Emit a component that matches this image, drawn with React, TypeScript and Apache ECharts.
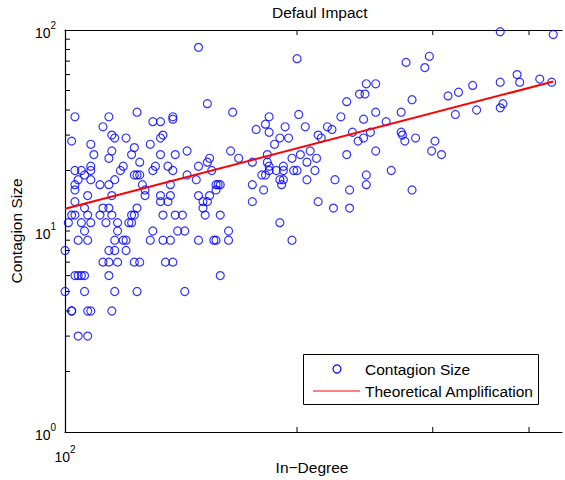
import React, { useEffect, useRef } from "react";
import * as echarts from "echarts";

// [in-degree, contagion size]
const contagionPoints: [number, number][] = [
  [103,37],[114,37],[124,39],[112,33],[115,30],[116,29],[120,29],[102,28],[108,27],[109,24],
  [115,25],[114,23],[122,24],[123,26],[125,22],[130,35],[133,35],[138,37],[138,36],[134,30],
  [133,29],[129,27],[133,24],[139,24],[144,25],
  [103,20],[105,20],[108,21],[108,20],[106,19],[104,18],[108,18],[103,17],[103,16],[107,15],
  [103,14],[116,18],[111,17],[114,17],[115,15],[118,20],[119,21],[123,19],[124,19],[125,19],
  [126,17],[127,16],[127,15],[130,20],[131,21],[136,21],[138,20],[133,15],[137,17],[137,15],
  [133,14],[136,14],[144,19],[149,21],[149,15],
  [112,13],[114,13],[106,13],[124,13],
  [102,12],[103,12],[107,12],[111,12],[115,12],[122,12],[123,12],[134,12],[139,12],[142,12],
  [101,11],[105,11],[108,11],[113,11],[117,11],[121,11],[122,11],
  [106,10],[117,10],[130,10],[140,10],[143,10],
  [104,9],[107,9],[116,9],[119,9],[120,9],[129,9],[134,9],[137,9],[149,9],
  [100,8],[114,8],[116,8],[120,8],
  [112,7],[114,7],[117,7],[123,7],[125,7],[135,7],[138,7],
  [103,6],[104,6],[105,6],[106,6],[114,6],
  [100,5],[106,5],[116,5],[124,5],[143,5],
  [102,4],[102,4],[107,4],[108,4],[115,4],
  [104,3],[107,3],
  [149,82],[200,72],[153,43],[165,39],[184,37],[182,34],[177,32],[184,31],[193,33],[201,38],
  [205,33],[190,29],[195,29],[187,27],[164,25],[168,23],[154,23],[153,22],[155,20],[148,18],
  [175,22],[183,24],[183,22],[184,21],[184,20],[180,19],[182,19],[188,20],[192,21],[192,20],
  [197,23],[198,20],[200,20],[202,24],[208,25],[206,22],[212,23],[211,20],[206,18],[190,18],
  [192,18],[191,17],[224,18],[232,24],[246,19],[246,17],[175,17],[157,17],[158,17],[159,17],
  [228,37],[232,44],[241,48],[245,48],[246,54],[253,54],[253,39],[244,36],[219,33],[222,32],
  [213,30],[215,29],[236,31],[240,28],[244,29],[249,31],[253,25],
  [277,69],[293,65],[297,74],[367,98],[430,95],[261,35],[273,39],[282,45],[314,47],[324,49],
  [338,53],[367,55],[386,60],[389,55],[413,57],[428,55],[321,38],[342,40],[367,41],[370,43],
  [273,31],[274,30],[276,28],[285,29],[302,28],[299,25],[308,24],[265,20],[282,16],
  [157,16],[154,15],[151,14],[153,14],[151,13],[152,12],[159,12],[163,10],[156,9],[157,9],
  [163,9],[159,6],[181,16],[175,14],[234,16],[213,14],[223,13],[234,13],[190,11],[197,9],
];

const fitX = [100, 430];
const fitY = [12.9, 55.4];

const yTickValues = [2, 3, 4, 5, 6, 7, 8, 9, 10, 20, 30, 40, 50, 60, 70, 80, 90];
const xTickValues = [200, 300, 400];

const X_MIN = 100;
const X_MAX = 441.4; // visible right edge of the cropped axes
const Y_MIN = 1;
const Y_MAX = 100;

const FONT = '"Liberation Sans", Arial, Helvetica, sans-serif';

export default function App() {
  const ref = useRef<HTMLDivElement>(null);

  useEffect(() => {
    if (!ref.current) return;
    const chart = echarts.init(ref.current, null, { renderer: "svg" });
    const rich = {
      b: { fontSize: 14, fontFamily: FONT, color: "#000", lineHeight: 20, verticalAlign: "bottom" },
      s: { fontSize: 10, fontFamily: FONT, color: "#000", lineHeight: 20, verticalAlign: "top" },
    };
    const txt = (text: string, x: number, y: number, align = "left") => ({
      type: "text",
      x,
      y,
      style: { text, fontSize: 15.5, fontFamily: FONT, fill: "#000", align, verticalAlign: "middle" },
    });
    const axisLine = { show: true, onZero: false, lineStyle: { color: "#000", width: 1.2 } };

    chart.setOption({
      animation: false,
      backgroundColor: "#fff",
      title: {
        text: "Defaul Impact",
        left: 272,
        top: 4,
        padding: 0,
        textStyle: { fontSize: 15.5, fontWeight: "normal", color: "#000", fontFamily: FONT },
      },
      grid: { left: 64, top: 30, right: 0, bottom: 48, show: false },
      xAxis: [
        {
          type: "log",
          logBase: 10,
          min: X_MIN,
          max: X_MAX,
          position: "bottom",
          axisLine,
          axisTick: { show: false },
          splitLine: { show: false },
          axisLabel: {
            margin: 12,
            formatter: (v: number) => (Math.abs(v - 100) < 1e-6 ? "{b|10}{s|2}" : ""),
            rich,
          },
        },
        {
          type: "log",
          logBase: 10,
          min: X_MIN,
          max: X_MAX,
          position: "top",
          axisLine,
          axisTick: { show: false },
          splitLine: { show: false },
          axisLabel: { show: false },
        },
      ],
      yAxis: {
        type: "log",
        logBase: 10,
        min: Y_MIN,
        max: Y_MAX,
        axisLine,
        axisTick: { show: false },
        splitLine: { show: false },
        axisLabel: {
          margin: 9,
          formatter: (v: number) => `{b|10}{s|${Math.round(Math.log10(v))}}`,
          rich,
        },
        name: "Contagion Size",
        nameLocation: "middle",
        nameGap: 38,
        nameTextStyle: { fontSize: 15.5, fontFamily: FONT, color: "#000" },
      },
      series: [
        {
          name: "Contagion Size",
          type: "scatter",
          xAxisIndex: 0,
          clip: false,
          symbol: "circle",
          symbolSize: 8,
          itemStyle: { color: "rgba(0,0,0,0)", borderColor: "#0000ff", borderWidth: 1.2 },
          data: contagionPoints,
        },
        {
          name: "Theoretical Amplification",
          type: "line",
          xAxisIndex: 0,
          symbol: "none",
          showSymbol: false,
          lineStyle: { color: "#ff0000", width: 2 },
          data: fitX.map((x, i) => [x, fitY[i]]),
        },
        {
          type: "custom",
          coordinateSystem: "cartesian2d",
          xAxisIndex: 0,
          silent: true,
          clip: false,
          data: yTickValues.map((v) => [X_MIN, v]),
          renderItem: (_p: any, api: any) => {
            const p = api.coord([api.value(0), api.value(1)]);
            return {
              type: "line",
              shape: { x1: p[0], y1: p[1], x2: p[0] + 5, y2: p[1] },
              style: { stroke: "#000", lineWidth: 1 },
            };
          },
        },
        {
          type: "custom",
          coordinateSystem: "cartesian2d",
          xAxisIndex: 0,
          silent: true,
          clip: false,
          data: xTickValues.map((v) => [v, Y_MIN]),
          renderItem: (_p: any, api: any) => {
            const b = api.coord([api.value(0), Y_MIN]);
            const t = api.coord([api.value(0), Y_MAX]);
            return {
              type: "group",
              children: [
                { type: "line", shape: { x1: b[0], y1: b[1], x2: b[0], y2: b[1] - 5 }, style: { stroke: "#000", lineWidth: 1 } },
                { type: "line", shape: { x1: t[0], y1: t[1], x2: t[0], y2: t[1] + 5 }, style: { stroke: "#000", lineWidth: 1 } },
              ],
            };
          },
        },
      ],
      graphic: [
        txt("In\u2212Degree", 312, 467, "center"),
        {
          type: "rect",
          shape: { x: 303.5, y: 354.5, width: 235, height: 50 },
          style: { fill: "#fff", stroke: "#000", lineWidth: 1 },
          z: 10,
        },
        {
          type: "circle",
          shape: { cx: 337, cy: 369, r: 4 },
          style: { fill: "none", stroke: "#0000ff", lineWidth: 1.2 },
          z: 11,
        },
        {
          type: "line",
          shape: { x1: 313, y1: 391, x2: 360, y2: 391 },
          style: { stroke: "#ff0000", lineWidth: 1 },
          z: 11,
        },
        { ...txt("Contagion Size", 365, 369), z: 11 },
        { ...txt("Theoretical Amplification", 365, 391), z: 11 },
      ],
    });
    return () => chart.dispose();
  }, []);

  return <div ref={ref} style={{ position: "absolute", left: 0, top: 0, width: 565, height: 480 }} />;
}
